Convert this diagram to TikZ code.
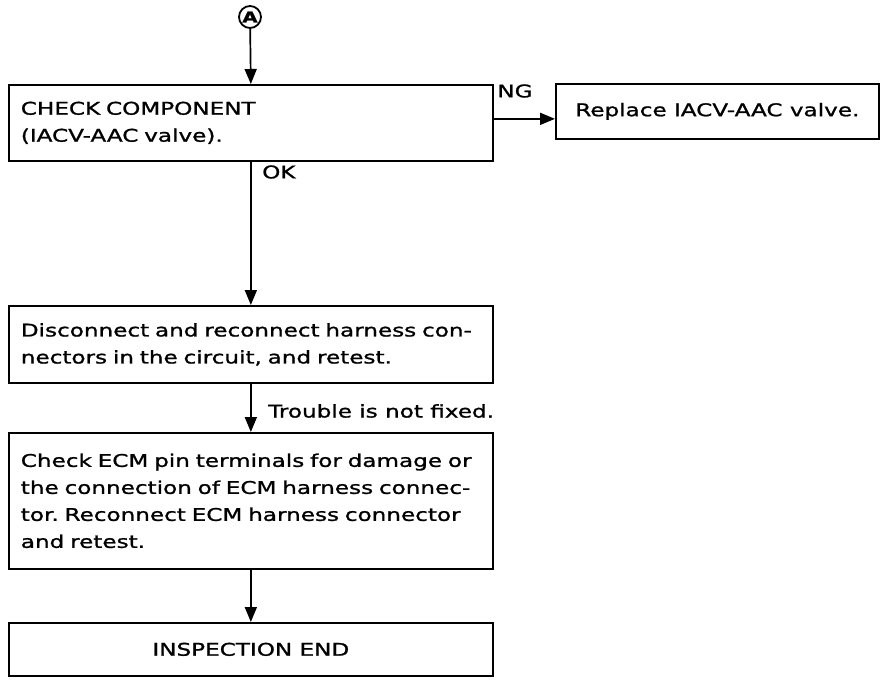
\documentclass[tikz,border=0pt]{standalone}
\usepackage{fontspec}
\setmainfont[FakeStretch=1.32,FakeBold=1.2]{DejaVu Sans}
\usetikzlibrary{arrows.meta}
\begin{document}
\frenchspacing
\begin{tikzpicture}[x=1pt,y=-1pt,
  box/.style={draw, line width=1.7pt, rectangle, inner ysep=0pt, anchor=north west, font=\fontsize{17.5}{27}\selectfont},
  tbox/.style={box, inner xsep=12pt, text width=460pt, align=left},
  lbl/.style={font=\fontsize{17.5}{27}\selectfont, inner sep=0pt},
  arr/.style={line width=1.7pt, -{Triangle[width=12pt,length=15pt]}}]
\useasboundingbox (0,0) rectangle (896,682);
\node[draw, circle, line width=1.8pt, minimum size=22pt, inner sep=0pt, font=\fontsize{15}{15}\selectfont\bfseries] (cA) at (250,17) {A};
\node[tbox, minimum height=76pt] (b1) at (8,84) {CHECK COMPONENT\\(IACV-AAC valve).};
\node[box, minimum width=323pt, minimum height=55pt, inner xsep=0pt, align=center] (rep) at (555,83) {Replace IACV-AAC valve.};
\node[tbox, minimum height=77pt] (b2) at (8,305) {Disconnect and reconnect harness con-\\nectors in the circuit, and retest.};
\node[tbox, minimum height=136pt] (b3) at (8,432) {Check ECM pin terminals for damage or\\the connection of ECM harness connec-\\tor. Reconnect ECM harness connector\\and retest.};
\node[box, minimum width=484pt, minimum height=53pt, inner xsep=0pt, align=center] (b4) at (8,622) {INSPECTION END};
\draw[arr] (cA) -- (b1.north);
\draw[arr] ([yshift=4pt]b1.east) -- ([yshift=4pt]b1.east -| rep.west);
\draw[arr] (b1.south) -- (b2.north);
\draw[arr] (b2.south) -- (b3.north);
\draw[arr] (b3.south) -- (b4.north);
\node[lbl] (ng) at (515,91) {NG};
\node[lbl, anchor=west] (ok) at (262,172) {OK};
\node[lbl, anchor=west] (tr) at (268,411) {Trouble is not fixed.};
\end{tikzpicture}
\end{document}
